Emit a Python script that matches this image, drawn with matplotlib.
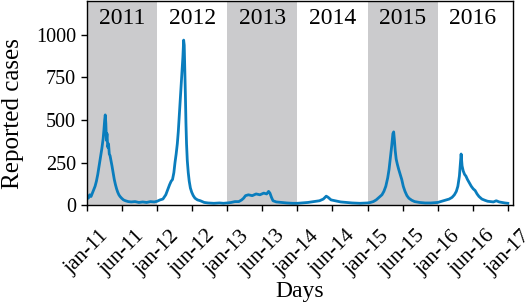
import numpy as np
import matplotlib.pyplot as plt

plt.rcParams['font.family'] = ['Liberation Serif', 'DejaVu Serif']

# day index (0 = 1 Jan 2011) and reported cases
days = [0, 7, 14, 21, 28, 35, 42, 49, 56, 63, 70, 77, 84, 88, 92, 95, 98, 101, 104,
        108, 112, 116, 120, 125, 130, 136, 142, 148, 154, 160, 166, 172, 180, 190,
        200, 215, 230, 250, 270, 290, 310, 330, 350, 365,
        380, 395, 410, 420, 430, 438, 445, 452, 458, 464, 470, 475, 480, 485, 490,
        495, 499, 503, 506, 509, 512, 515, 518, 522, 527, 532, 538, 545, 553, 562,
        575, 590, 610, 630, 660, 690, 710, 730,
        750, 770, 790, 805, 815, 825, 840, 860, 880, 900, 920, 935, 945, 952, 960,
        968, 985, 1010, 1040, 1070, 1095,
        1120, 1150, 1180, 1210, 1230, 1245, 1255, 1270, 1290, 1320, 1350, 1380,
        1420, 1460,
        1475, 1490, 1505, 1515, 1525, 1535, 1545, 1555, 1565, 1572, 1580, 1586,
        1592, 1596, 1600, 1604, 1609, 1615, 1622, 1630, 1638, 1646, 1655, 1665,
        1675, 1690, 1705, 1730, 1760, 1790, 1825,
        1840, 1855, 1870, 1885, 1900, 1912, 1922, 1930, 1938, 1944, 1947, 1952,
        1958, 1965, 1972, 1980, 1990, 2000, 2010, 2020, 2030, 2040, 2055, 2070,
        2085, 2100, 2115, 2130, 2145, 2160, 2175, 2190]
cases = [55, 40, 60, 50, 70, 90, 110, 140, 180, 230, 280, 330, 390, 440, 500, 530, 480, 380, 420,
         340, 360, 300, 290, 260, 230, 190, 150, 120, 95, 75, 60, 50, 40, 30,
         25, 20, 18, 20, 15, 18, 15, 20, 18, 22,
         30, 35, 60, 90, 120, 140, 150, 190, 250, 300, 360, 430, 520, 600, 700,
         780, 870, 970, 940, 800, 650, 480, 360, 260, 190, 140, 100, 75, 55, 40,
         30, 25, 15, 12, 10, 12, 10, 12,
         15, 20, 20, 30, 40, 55, 60, 55, 65, 60, 70, 65, 80, 70, 45,
         25, 18, 15, 12, 10, 10,
         12, 15, 20, 25, 35, 52, 45, 30, 25, 18, 15, 12,
         10, 12,
         15, 20, 30, 40, 50, 60, 80, 110, 160, 210, 290, 350,
         420, 430, 380, 320, 270, 240, 210, 180, 150, 110, 80, 55,
         40, 28, 20, 15, 12, 12, 15,
         20, 25, 30, 35, 45, 60, 80, 110, 170, 260, 300, 230,
         200, 180, 170, 150, 130, 110, 95, 85, 65, 50, 35, 28,
         22, 20, 18, 25, 18, 15, 12, 10]

years = ['2011', '2012', '2013', '2014', '2015', '2016']
year_starts = [0, 365, 730, 1095, 1460, 1826]
year_ends = [365, 730, 1095, 1460, 1826, 2191]
shaded = [True, False, True, False, True, False]

tick_days = [0, 182, 365, 547, 730, 912, 1095, 1277, 1460, 1642, 1826, 2008, 2191]
tick_labels = ['jan-11', 'jun-11', 'jan-12', 'jun-12', 'jan-13', 'jun-13', 'jan-14',
               'jun-14', 'jan-15', 'jun-15', 'jan-16', 'jun-16', 'jan-17']

fig = plt.figure(figsize=(5.26, 3.03), dpi=100)
ax = fig.add_axes([87 / 526, 98 / 303, 426 / 526, 204 / 303])

for y0, y1, name, sh in zip(year_starts, year_ends, years, shaded):
    if sh:
        ax.axvspan(y0, y1, color='#cbcbcd', lw=0, zorder=0)
    ax.text((y0 + y1) / 2, 1100, name, ha='center', va='center', fontsize=17)

ax.plot(days, cases, color='#0a7dbd', lw=2.0, zorder=2)

ax.set_xlim(0, 2217)
ax.set_ylim(0, 1200)
ax.set_yticks([0, 250, 500, 750, 1000])
ax.set_xticks(tick_days)
ax.set_xticklabels(tick_labels, rotation=45, ha='center')
ax.tick_params(direction='out', length=4.5, width=1, labelsize=14.5, colors='black')
ax.tick_params(axis='x', pad=11, labelsize=15.5)
ax.set_ylabel('Reported cases', fontsize=18)
ax.yaxis.set_label_coords(-0.148, 0.45)
ax.set_xlabel('Days', fontsize=17)
ax.xaxis.set_label_coords(0.5, -0.375)
for s in ax.spines.values():
    s.set_linewidth(1.0)

fig.savefig('out.png', dpi=100)
